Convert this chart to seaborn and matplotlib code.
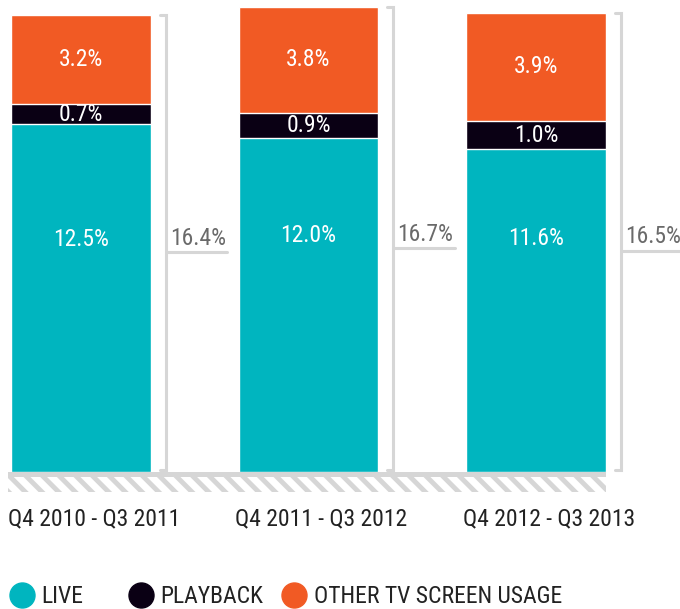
import matplotlib
matplotlib.use("Agg")
import matplotlib.pyplot as plt
import matplotlib.transforms as mtransforms
import seaborn as sns
import pandas as pd
from matplotlib.lines import Line2D
from matplotlib.patches import Rectangle

# data
periods = ["Q4 2010 - Q3 2011", "Q4 2011 - Q3 2012", "Q4 2012 - Q3 2013"]
live = [12.5, 12.0, 11.6]
playback = [0.7, 0.9, 1.0]
other = [3.2, 3.8, 3.9]
totals = [16.4, 16.7, 16.5]
series_names = ["LIVE", "PLAYBACK", "OTHER TV SCREEN USAGE"]

TEAL = "#00B5BF"
BLACK = "#0A0014"
ORANGE = "#F15A24"
GREY = "#D6D6D6"

sns.set_style("white")
plt.rcParams["font.family"] = ["Roboto Condensed", "Archivo Narrow", "DejaVu Sans"]
plt.rcParams["hatch.linewidth"] = 3.5
plt.rcParams["hatch.color"] = GREY

df = pd.DataFrame({"period": periods, "live": live, "playback": playback, "other": other})
df["live_pb"] = df["live"] + df["playback"]
df["top"] = df["live_pb"] + df["other"]

fig = plt.figure(figsize=(6.8, 6.09), dpi=100)
ax = fig.add_axes([0, 109 / 609, 1, 500 / 609])

w = 0.615
# stacked bars: draw cumulative heights from tallest to shortest
sns.barplot(data=df, x="period", y="top", color=ORANGE, saturation=1, width=w, ax=ax)
sns.barplot(data=df, x="period", y="live_pb", color=BLACK, saturation=1, width=w, ax=ax)
sns.barplot(data=df, x="period", y="live", color=TEAL, saturation=1, width=w, ax=ax)

ax.set_xlim(-0.356, 2.633)
ax.set_ylim(-1.005, 16.95)

# baseline strip with hatching
x0, x1 = -w / 2 - 0.013, 2 + w / 2
ax.add_patch(Rectangle((x0, -0.18), x1 - x0, 0.18, facecolor=GREY, edgecolor="none", zorder=3))
ax.add_patch(Rectangle((x0, -0.7), x1 - x0, 0.52, facecolor="white", edgecolor=GREY,
                       hatch="\\\\", linewidth=0, zorder=3))

txt = dict(color="white", fontsize=17, ha="center", va="center")
for i, row in df.iterrows():
    ax.text(i, row["live_pb"] + row["other"] / 2, f"{row['other']:.1f}%", **txt)
    ax.text(i, row["live"] + row["playback"] / 2, f"{row['playback']:.1f}%", **txt)
    ax.text(i, totals[i] / 2 + 0.15, f"{row['live']:.1f}%", **txt)

    # bracket with total
    bx = i + w / 2 + 0.066
    top = row["top"]
    ax.plot([bx - 0.028, bx, bx, bx - 0.028], [top, top, 0.08, 0.08],
            color=GREY, lw=2.2, solid_joinstyle="miter", clip_on=False)
    my = totals[i] / 2 - 0.3
    ax.plot([bx, bx + 0.27], [my, my], color=GREY, lw=2.2, clip_on=False)
    ax.text(bx + 0.018, my + 0.08, f"{totals[i]:.1f}%", color="#6A6A6A", fontsize=17,
            ha="left", va="bottom")

ax.set_xlabel("")
ax.set_ylabel("")
ax.set_yticks([])
ax.tick_params(axis="x", length=0, pad=5, labelsize=17, labelcolor="#222222")
# labels start at the bar's left edge, as in the reference
offset = mtransforms.ScaledTranslation(-73 / 100, 0, fig.dpi_scale_trans)
for lab in ax.get_xticklabels():
    lab.set_horizontalalignment("left")
    lab.set_transform(lab.get_transform() + offset)
for s in ax.spines.values():
    s.set_visible(False)

# legend, one entry per anchor to keep the reference spacing
legend_x = [-0.010, 0.165, 0.390]
for name, c, lx in zip(series_names, [TEAL, BLACK, ORANGE], legend_x):
    h = Line2D([], [], marker="o", linestyle="none", markersize=18, color=c)
    fig.legend([h], [name], loc="lower left", bbox_to_anchor=(lx, -0.026),
               frameon=False, fontsize=17, handletextpad=0.35,
               handlelength=1.0, labelcolor="#222222", borderaxespad=0.3)

fig.savefig("out.png", dpi=100)
